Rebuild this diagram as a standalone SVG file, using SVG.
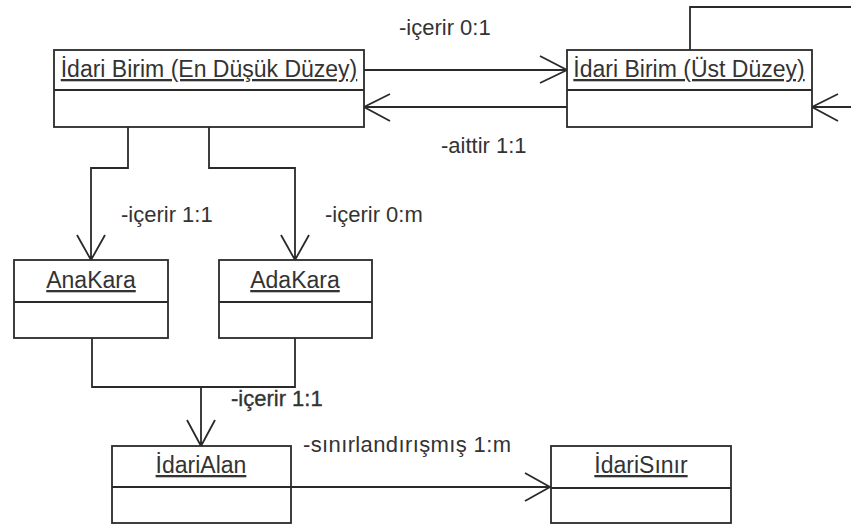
<svg xmlns="http://www.w3.org/2000/svg" width="851" height="524" viewBox="0 0 851 524">
<style>
.box{fill:#fff;stroke:#2a2a2a;stroke-width:1.8}
.div{stroke:#2a2a2a;stroke-width:1.8}
.t{font-family:"Liberation Sans",Arial,sans-serif;font-size:23px;fill:#333;text-anchor:middle;text-decoration:underline}
.l{font-family:"Liberation Sans",Arial,sans-serif;font-size:22px;fill:#333}
.c{fill:none;stroke:#2a2a2a;stroke-width:1.8}
</style>
<rect width="851" height="524" fill="#fff"/>
<g id="connectors">
<path class="c" d="M364 70H567M540 56L567 70L540 83"/>
<path class="c" d="M567 107H364M390 94L364 107L390 121"/>
<path class="c" d="M690 50V7H851M851 107H812M838 94L812 107L838 121"/>
<path class="c" d="M128 121V168H91V260M77 235L91 260L105 235"/>
<path class="c" d="M209 127V168H295V260M281 235L295 260L309 235"/>
<path class="c" d="M92 338V387H295V338M201 387V446M187 420L201 446L215 420"/>
<path class="c" d="M291 487H550M525 473L550 487L525 501"/>
<text class="l" x="399" y="35">-içerir 0:1</text>
<text class="l" x="441" y="153">-aittir 1:1</text>
<text class="l" x="121" y="222">-içerir 1:1</text>
<text class="l" x="325" y="222">-içerir 0:m</text>
<text class="l" x="231" y="406" stroke="#333" stroke-width="0.35">-içerir 1:1</text>
<text class="l" x="303" y="452" textLength="208">-sınırlandırışmış 1:m</text>
</g>
<g id="idari-birim-en-dusuk">
<rect class="box" x="54" y="50" width="310" height="77"/>
<line class="div" x1="54" y1="90" x2="364" y2="90"/>
<text class="t" x="209" y="77">İdari Birim (En Düşük Düzey)</text>
</g>
<g id="idari-birim-ust">
<rect class="box" x="567" y="50" width="245" height="77"/>
<line class="div" x1="567" y1="90" x2="812" y2="90"/>
<text class="t" x="689" y="77">İdari Birim (Üst Düzey)</text>
</g>
<g id="anakara">
<rect class="box" x="14" y="260" width="154" height="78"/>
<line class="div" x1="14" y1="302" x2="168" y2="302"/>
<text class="t" x="91" y="288">AnaKara</text>
</g>
<g id="adakara">
<rect class="box" x="219" y="260" width="153" height="78"/>
<line class="div" x1="219" y1="302" x2="372" y2="302"/>
<text class="t" x="295" y="288">AdaKara</text>
</g>
<g id="idarialan">
<rect class="box" x="112" y="446" width="179" height="77"/>
<line class="div" x1="112" y1="487" x2="291" y2="487"/>
<text class="t" x="201" y="473">İdariAlan</text>
</g>
<g id="idarisinir">
<rect class="box" x="551" y="446" width="180" height="77"/>
<line class="div" x1="551" y1="488" x2="731" y2="488"/>
<text class="t" x="641" y="473">İdariSınır</text>
</g>
</svg>
